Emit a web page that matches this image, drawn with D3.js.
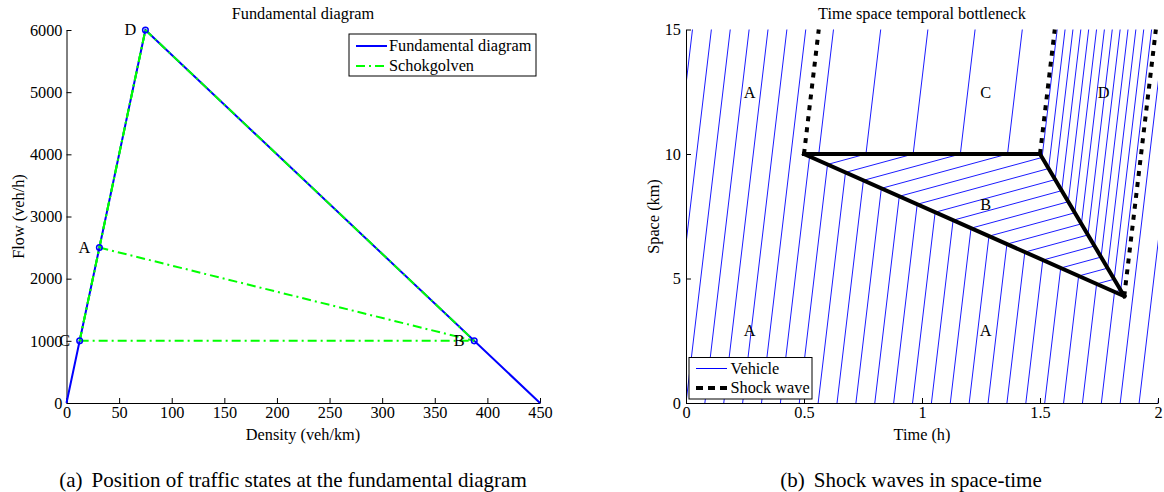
<!DOCTYPE html>
<meta charset="utf-8">
<html>
<head>
<title>Fundamental diagram / time space</title>
<script src="https://d3js.org/d3.v7.min.js"></script>
<style>
  body { margin: 0; background: #fff; }
  text { font-family: "Liberation Serif", "Times New Roman", serif; fill: #000; }
</style>
</head>
<body>
<div id="chart"></div>
<script>
// ---- (a) fundamental diagram ----
var fdDensity = [0, 75, 450];
var fdFlow = [0, 6000, 0];
var stateNames = ["A", "B", "C", "D"];
var stateDensity = [31.25, 387.5, 12.5, 75];
var stateFlow = [2500, 1000, 1000, 6000];
var shockPairs = [["A", "B"], ["C", "B"], ["C", "D"], ["D", "B"], ["C", "A"], ["A", "D"]];
var densTicks = [0, 50, 100, 150, 200, 250, 300, 350, 400, 450];
var flowTicks = [0, 1000, 2000, 3000, 4000, 5000, 6000];

// ---- (b) time space diagram ----
var timeTicks = [0, 0.5, 1, 1.5, 2];
var spaceTicks = [0, 5, 10, 15];
// shock waves (start/end in time h, space km)
var swT0 = [0.5, 0.5, 1.5, 0.5, 1.5, 1.857];
var swX0 = [10, 10, 10, 10, 10, 4.29];
var swT1 = [1.5, 1.857, 1.857, 0.5625, 1.5625, 1.991];
var swX1 = [10, 4.29, 4.29, 15, 15, 15];
var swDotted = [false, false, false, true, true, true];
// traffic state regions
var regionState = ["A", "C", "B", "D"];
var regionT = [[0, 0, 0.5625, 0.5, 1.857, 1.991, 2, 2], [0.5, 0.5625, 1.5625, 1.5], [0.5, 1.5, 1.857], [1.5, 1.5625, 1.991, 1.857]];
var regionX = [[0, 15, 15, 10, 4.29, 15, 15, 0], [10, 15, 15, 10], [10, 10, 4.29], [10, 15, 15, 4.29]];
var regionRefT = [0, 0.5, 0.5, 1.5];
var regionRefX = [0, 10, 10, 10];
var regionFrom = [-1, 0, 0, 1]; // region whose count continues into this one
var vehStep = 200;
var labelText = ["A", "C", "D", "B", "A", "A"];
var labelT = [0.27, 1.27, 1.77, 1.27, 0.27, 1.27];
var labelX = [12.45, 12.45, 12.45, 7.95, 2.9, 2.9];

var W = 1164, H = 492, FS = 16.3;

var svg = d3.select("#chart").append("svg")
  .attr("width", W).attr("height", H)
  .style("background", "#fff");

function styleAxis(g) {
  g.attr("font-family", null).attr("font-size", null);
  g.selectAll("text").style("font-size", FS + "px");
  g.select(".domain").attr("stroke", "#000").attr("stroke-width", 1);
  g.selectAll(".tick line").attr("stroke", "#000");
}

// ================= left chart =================
var x1 = d3.scaleLinear().domain([0, 450]).range([66.5, 540]);
var y1 = d3.scaleLinear().domain([0, 6000]).range([403, 30]);
var L = svg.append("g");

L.append("g").attr("transform", "translate(0,403)")
  .call(d3.axisBottom(x1).tickValues(densTicks).tickSizeInner(-5).tickSizeOuter(0).tickPadding(3).tickFormat(d3.format("d")))
  .call(styleAxis);
L.append("g").attr("transform", "translate(66.5,0)")
  .call(d3.axisLeft(y1).tickValues(flowTicks).tickSizeInner(-5).tickSizeOuter(0).tickPadding(4).tickFormat(d3.format("d")))
  .call(styleAxis);

var line1 = d3.line().x(d => x1(d[0])).y(d => y1(d[1]));
L.append("path")
  .datum(fdDensity.map((d, i) => [d, fdFlow[i]]))
  .attr("d", line1).attr("fill", "none").attr("stroke", "#0000ff").attr("stroke-width", 2);

function st(n) { var i = stateNames.indexOf(n); return [stateDensity[i], stateFlow[i]]; }
L.selectAll(".shock").data(shockPairs).enter().append("path")
  .attr("class", "shock")
  .attr("d", d => line1([st(d[0]), st(d[1])]))
  .attr("fill", "none").attr("stroke", "#00ff00").attr("stroke-width", 2)
  .attr("stroke-dasharray", "9,4,2,4");

L.selectAll(".pt").data(stateNames).enter().append("circle")
  .attr("cx", d => x1(st(d)[0])).attr("cy", d => y1(st(d)[1])).attr("r", 2.8)
  .attr("fill", "none").attr("stroke", "#0000ff").attr("stroke-width", 1.5);
L.selectAll(".ptlab").data(stateNames).enter().append("text")
  .attr("x", d => x1(st(d)[0]) - 15).attr("y", d => y1(st(d)[1]))
  .attr("dy", "0.33em").attr("text-anchor", "middle").style("font-size", FS + "px")
  .text(d => d);

L.append("text").attr("x", 303).attr("y", 18.5).attr("text-anchor", "middle")
  .style("font-size", FS + "px").text("Fundamental diagram");
L.append("text").attr("x", 303).attr("y", 439.5).attr("text-anchor", "middle")
  .style("font-size", FS + "px").text("Density (veh/km)");
L.append("text").attr("transform", "translate(24,216.5) rotate(-90)").attr("text-anchor", "middle")
  .style("font-size", FS + "px").text("Flow (veh/h)");

// legend
var lg = L.append("g").attr("transform", "translate(349,34)");
lg.append("rect").attr("width", 187).attr("height", 42).attr("fill", "#fff").attr("stroke", "#000");
lg.append("line").attr("x1", 7).attr("x2", 38).attr("y1", 12).attr("y2", 12)
  .attr("stroke", "#0000ff").attr("stroke-width", 2);
lg.append("line").attr("x1", 7).attr("x2", 38).attr("y1", 32).attr("y2", 32)
  .attr("stroke", "#00ff00").attr("stroke-width", 2).attr("stroke-dasharray", "9,4,2,4");
lg.append("text").attr("x", 40).attr("y", 12).attr("dy", "0.33em").style("font-size", FS + "px").text("Fundamental diagram");
lg.append("text").attr("x", 40).attr("y", 32).attr("dy", "0.33em").style("font-size", FS + "px").text("Schokgolven");

// ================= right chart =================
var x2 = d3.scaleLinear().domain([0, 2]).range([686, 1158]);
var y2 = d3.scaleLinear().domain([0, 15]).range([403, 29.5]);
var R = svg.append("g");
var defs = svg.append("defs");

function regionN(r, t, x) {
  var s = stateNames.indexOf(regionState[r]);
  var n0 = regionFrom[r] < 0 ? 0 : regionN(regionFrom[r], regionRefT[r], regionRefX[r]);
  return n0 + stateFlow[s] * (t - regionRefT[r]) - stateDensity[s] * (x - regionRefX[r]);
}

regionState.forEach(function (name, r) {
  var s = stateNames.indexOf(name);
  var pts = regionT[r].map((t, i) => [x2(t), y2(regionX[r][i])]);
  defs.append("clipPath").attr("id", "reg" + r)
    .append("polygon").attr("points", pts.map(p => p.join(",")).join(" "));
  var ns = regionT[r].map((t, i) => regionN(r, t, regionX[r][i]));
  var lo = Math.ceil(d3.min(ns) / vehStep) * vehStep, hi = d3.max(ns);
  var counts = [];
  for (var c = lo; c <= hi; c += vehStep) counts.push(c);
  var n0 = regionN(r, regionRefT[r], regionRefX[r]);
  var tAt = (c, x) => regionRefT[r] + (c - n0 + stateDensity[s] * (x - regionRefX[r])) / stateFlow[s];
  R.append("g").attr("clip-path", "url(#reg" + r + ")")
    .selectAll("line").data(counts).enter().append("line")
    .attr("x1", c => x2(tAt(c, -1))).attr("y1", y2(-1))
    .attr("x2", c => x2(tAt(c, 16))).attr("y2", y2(16))
    .attr("stroke", "#0000ff").attr("stroke-width", 0.9);
});

R.append("g").attr("transform", "translate(0,403)")
  .call(d3.axisBottom(x2).tickValues(timeTicks).tickSizeInner(-5).tickSizeOuter(0).tickPadding(3).tickFormat(d => d))
  .call(styleAxis);
R.append("g").attr("transform", "translate(686,0)")
  .call(d3.axisLeft(y2).tickValues(spaceTicks).tickSizeInner(-5).tickSizeOuter(0).tickPadding(5).tickFormat(d => d))
  .call(styleAxis);

R.selectAll(".sw").data(swT0).enter().append("line")
  .attr("x1", (d, i) => x2(swT0[i])).attr("y1", (d, i) => y2(swX0[i]))
  .attr("x2", (d, i) => x2(swT1[i])).attr("y2", (d, i) => y2(swX1[i]))
  .attr("stroke", "#000").attr("stroke-width", 4)
  .attr("stroke-linecap", (d, i) => swDotted[i] ? "butt" : "square")
  .attr("stroke-dasharray", (d, i) => swDotted[i] ? "5,6" : null);

R.selectAll(".rl").data(labelText).enter().append("text")
  .attr("x", (d, i) => x2(labelT[i])).attr("y", (d, i) => y2(labelX[i]))
  .attr("dy", "0.33em").attr("text-anchor", "middle").style("font-size", FS + "px")
  .text(d => d);

R.append("text").attr("x", 922).attr("y", 18.5).attr("text-anchor", "middle")
  .style("font-size", FS + "px").text("Time space temporal bottleneck");
R.append("text").attr("x", 922).attr("y", 439.5).attr("text-anchor", "middle")
  .style("font-size", FS + "px").text("Time (h)");
R.append("text").attr("transform", "translate(659,216.5) rotate(-90)").attr("text-anchor", "middle")
  .style("font-size", FS + "px").text("Space (km)");

var lg2 = R.append("g").attr("transform", "translate(689,357.5)");
lg2.append("rect").attr("width", 123).attr("height", 41.5).attr("fill", "#fff").attr("stroke", "#000");
lg2.append("line").attr("x1", 7).attr("x2", 38).attr("y1", 11).attr("y2", 11)
  .attr("stroke", "#0000ff").attr("stroke-width", 1);
lg2.append("line").attr("x1", 7).attr("x2", 38).attr("y1", 30.5).attr("y2", 30.5)
  .attr("stroke", "#000").attr("stroke-width", 4).attr("stroke-dasharray", "7,5");
lg2.append("text").attr("x", 41.5).attr("y", 11).attr("dy", "0.33em").style("font-size", FS + "px").text("Vehicle");
lg2.append("text").attr("x", 41.5).attr("y", 30.5).attr("dy", "0.33em").style("font-size", FS + "px").text("Shock wave");

// ================= captions =================
var capA = svg.append("text").attr("x", 293).attr("y", 487).attr("text-anchor", "middle").style("font-size", "21px");
capA.append("tspan").text("(a)");
capA.append("tspan").attr("dx", 9).text("Position of traffic states at the fundamental diagram");
var capB = svg.append("text").attr("x", 911).attr("y", 487).attr("text-anchor", "middle").style("font-size", "21px");
capB.append("tspan").text("(b)");
capB.append("tspan").attr("dx", 9).text("Shock waves in space-time");
</script>
</body>
</html>
